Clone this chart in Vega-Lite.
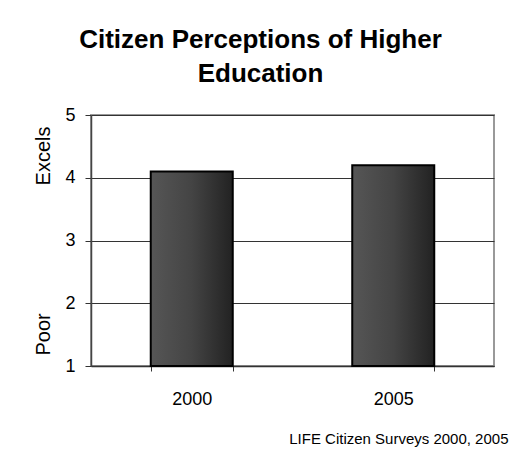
{
  "$schema": "https://vega.github.io/schema/vega-lite/v6.json",
  "autosize": {"type": "none"},
  "padding": {"left": 91, "top": 115, "right": 15, "bottom": 83},
  "width": 403,
  "height": 251,
  "background": "white",
  "title": {
    "text": ["Citizen Perceptions of Higher", "Education"],
    "font": "Liberation Sans",
    "fontSize": 26,
    "fontWeight": "bold",
    "color": "black",
    "lineHeight": 34,
    "anchor": "middle",
    "frame": "group",
    "baseline": "bottom",
    "dx": -32,
    "offset": -7
  },
  "data": {
    "values": [
      {"year": "2000", "rating": 4.1},
      {"year": "2005", "rating": 4.2}
    ]
  },
  "mark": {
    "type": "bar",
    "stroke": "black",
    "strokeWidth": 2,
    "color": {
      "gradient": "linear",
      "x1": 0, "y1": 0, "x2": 1, "y2": 0,
      "stops": [
        {"offset": 0, "color": "#565656"},
        {"offset": 0.5, "color": "#444444"},
        {"offset": 1, "color": "#222222"}
      ]
    }
  },
  "encoding": {
    "x": {
      "field": "year",
      "type": "nominal",
      "sort": null,
      "scale": {"paddingInner": 0.593, "paddingOuter": 0.2965},
      "axis": {
        "title": "LIFE Citizen Surveys 2000, 2005",
        "titleFont": "Liberation Sans",
        "titleFontSize": 15,
        "titleFontWeight": "normal",
        "titleColor": "black",
        "titleAlign": "right",
        "titleBaseline": "alphabetic",
        "titleAnchor": "end",
        "titleX": 417,
        "titleY": 77,
        "labelAngle": 0,
        "labelFont": "Liberation Sans",
        "labelFontSize": 18,
        "labelColor": "black",
        "labelPadding": 19,
        "tickBand": "extent",
        "tickSize": 5,
        "tickColor": "#333333",
        "domainColor": "#333333",
        "domainWidth": 1.5,
        "grid": false
      }
    },
    "y": {
      "field": "rating",
      "type": "quantitative",
      "scale": {"domain": [1, 5], "zero": false, "nice": false},
      "axis": {
        "values": [1, 2, 3, 4, 5],
        "title": "Poor\u00a0\u00a0\u00a0\u00a0\u00a0\u00a0\u00a0\u00a0\u00a0\u00a0\u00a0\u00a0\u00a0\u00a0\u00a0\u00a0\u00a0\u00a0\u00a0\u00a0\u00a0\u00a0\u00a0Excels",
        "titleFont": "Liberation Sans",
        "titleFontSize": 20,
        "titleFontWeight": "normal",
        "titleColor": "black",
        "titlePadding": 11,
        "labelFont": "Liberation Sans",
        "labelFontSize": 18,
        "labelColor": "black",
        "labelPadding": 10,
        "tickSize": 6,
        "tickColor": "#333333",
        "domainColor": "#444444",
        "domainWidth": 1.5,
        "grid": true,
        "gridColor": "#333333",
        "gridWidth": 1
      }
    },
    "y2": {"datum": 1}
  },
  "config": {
    "view": {"stroke": "#999999", "strokeWidth": 2}
  }
}
